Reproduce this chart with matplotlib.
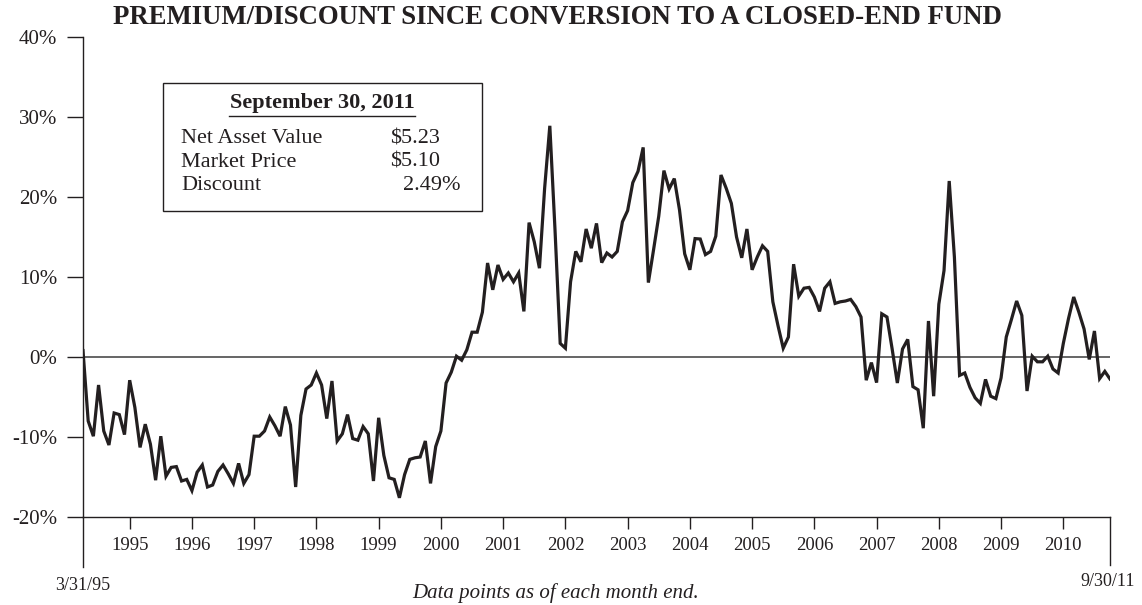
import matplotlib
matplotlib.use("Agg")
import matplotlib.pyplot as plt
from matplotlib.patches import Rectangle
from matplotlib.lines import Line2D

plt.rcParams['font.family'] = ['Liberation Serif', 'DejaVu Serif']

# monthly premium(+)/discount(-) in %, 3/31/95 .. 9/30/11
premium = [
    0.8, -8.0, -9.9, -3.5, -9.25, -11.0, -7.0, -7.2, -9.7, -2.9, -6.3, -11.3,
    -8.4, -10.9, -15.4, -9.9, -14.9, -13.8, -13.7, -15.5, -15.3, -16.7, -14.4, -13.5,
    -16.25, -16.0, -14.3, -13.5, -14.6, -15.8, -13.3, -15.8, -14.7, -9.9, -9.9, -9.25,
    -7.5, -8.6, -9.9, -6.2, -8.5, -16.25, -7.3, -4.0, -3.5, -2.0, -3.5, -7.7,
    -3.0, -10.5, -9.6, -7.2, -10.2, -10.4, -8.7, -9.6, -15.5, -7.6, -12.3, -15.1,
    -15.3, -17.6, -14.7, -12.8, -12.6, -12.5, -10.5, -15.8, -11.2, -9.25, -3.25, -1.9,
    0.1, -0.4, 0.9, 3.1, 3.1, 5.6, 11.75, 8.4, 11.5, 9.7, 10.5, 9.4,
    10.5, 5.7, 16.8, 14.4, 11.1, 21.1, 28.9, 15.9, 1.7, 1.1, 9.4, 13.2,
    11.9, 16.0, 13.6, 16.7, 11.8, 13.0, 12.5, 13.2, 16.9, 18.3, 21.8, 23.2,
    26.2, 9.3, 13.4, 17.6, 23.3, 21.0, 22.3, 18.4, 12.9, 10.9, 14.8, 14.75,
    12.8, 13.2, 15.1, 22.75, 21.1, 19.2, 15.0, 12.4, 16.0, 10.9, 12.5, 13.9,
    13.2, 6.9, 3.9, 1.1, 2.5, 11.6, 7.6, 8.6, 8.7, 7.5, 5.7, 8.6,
    9.4, 6.7, 6.9, 7.0, 7.2, 6.3, 5.0, -2.9, -0.7, -3.2, 5.4, 5.0,
    1.0, -3.25, 1.0, 2.2, -3.7, -4.1, -8.9, 4.5, -4.9, 6.6, 10.8, 22.0,
    12.5, -2.3, -2.0, -3.8, -5.1, -5.8, -2.8, -4.9, -5.2, -2.6, 2.5, 4.7,
    7.0, 5.2, -4.25, 0.1, -0.6, -0.6, 0.1, -1.5, -2.0, 1.7, 4.8, 7.5,
    5.6, 3.5, -0.3, 3.25, -2.7, -1.8, -2.75,
]
months = list(range(len(premium)))

year_labels = [str(y) for y in range(1995, 2011)]
year_end_months = [9 + 12 * i for i in range(len(year_labels))]
y_ticks = [40, 30, 20, 10, 0, -10, -20]

start_label = "3/31/95"
end_label = "9/30/11"
box_title = "September 30, 2011"
box_rows = [("Net Asset Value", "$5.23"), ("Market Price", "$5.10"), ("Discount", "2.49%")]

ink = "#231f20"
W, H = 1142, 605

fig = plt.figure(figsize=(W / 100, H / 100), dpi=100)
ax = fig.add_axes([83 / W, 1 - 517 / H, (1110 - 83) / W, (517 - 37) / H])

def fx(px):
    return px / W

def fy(py):
    return 1 - py / H

ax.axhline(0, color="#3c3c3c", lw=1.1, zorder=1)
ax.plot(months, premium, color=ink, lw=2.3, solid_joinstyle="miter", zorder=3)

ax.set_xlim(0, len(premium) - 1)
ax.set_ylim(-20, 40)

for s in ["top", "right"]:
    ax.spines[s].set_visible(False)
for s in ["left", "bottom"]:
    ax.spines[s].set_color(ink)
    ax.spines[s].set_linewidth(1.0)

ax.set_yticks(y_ticks)
ax.set_yticklabels([f"{v}%" for v in y_ticks])
ax.tick_params(axis="y", direction="out", length=11.5, width=1.0, color=ink,
               pad=7, labelsize=15, labelcolor=ink)
ax.set_xticks(year_end_months)
ax.set_xticklabels(year_labels)
ax.tick_params(axis="x", direction="out", length=8.6, width=1.0, color=ink,
               pad=5.5, labelsize=13.5, labelcolor=ink)

# spine extensions below the axis at start and end dates
ax.plot([0, 0], [0, -50 / 480], transform=ax.transAxes, color=ink, lw=1.0, clip_on=False)
ax.plot([1, 1], [0, -48 / 480], transform=ax.transAxes, color=ink, lw=1.0, clip_on=False)

fig.text(fx(83), fy(585), start_label, ha="center", va="center", fontsize=13, color=ink)
fig.text(fx(1108), fy(582), end_label, ha="center", va="center", fontsize=13, color=ink)
fig.text(fx(556), fy(593), "Data points as of each month end.", ha="center", va="center",
         fontsize=15, style="italic", color=ink)

fig.text(fx(557), fy(18), "PREMIUM/DISCOUNT SINCE CONVERSION TO A CLOSED-END FUND",
         ha="center", va="center", fontsize=19.3, fontweight="bold", color=ink)

# info box
fig.patches.append(Rectangle((fx(163), fy(211)), fx(482) - fx(163), fy(83) - fy(211),
                             transform=fig.transFigure, fill=False, ec=ink, lw=1.0))
fig.text(fx(322), fy(103), box_title, ha="center", va="center", fontsize=16,
         fontweight="bold", color=ink)
fig.lines.append(Line2D([fx(229), fx(415)], [fy(116), fy(116)], transform=fig.transFigure,
                        color=ink, lw=1.0))
for i, (name, val) in enumerate(box_rows):
    yy = fy(139 + 23.5 * i)
    fig.text(fx(181), yy, name, ha="left", va="center", fontsize=16, color=ink)
    if val.endswith("%"):
        fig.text(fx(461), yy, val, ha="right", va="center", fontsize=16, color=ink)
    else:
        fig.text(fx(390), yy, val, ha="left", va="center", fontsize=16, color=ink)

fig.savefig("out.png", dpi=100)
